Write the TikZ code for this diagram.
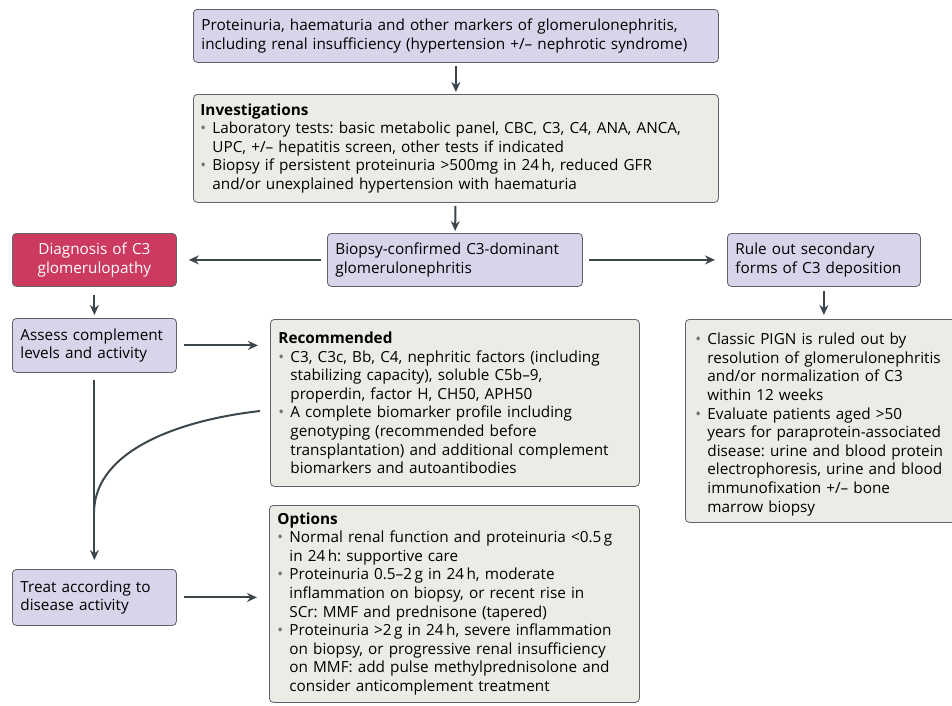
\documentclass[tikz,border=0pt]{standalone}
\usepackage{fontspec}
\setmainfont{Open Sans}
\usepackage{tikz}
\usetikzlibrary{arrows.meta}

\definecolor{lavfill}{RGB}{216,213,235}
\definecolor{beigefill}{RGB}{237,235,229}
\definecolor{redfill}{RGB}{205,58,96}
\definecolor{edgegray}{RGB}{95,100,105}
\definecolor{arrowgray}{RGB}{60,70,75}
\definecolor{dotgray}{RGB}{110,115,120}

\newcommand{\bul}{\par\noindent\hangindent=12pt\hangafter=1\makebox[12pt][l]{\textcolor{dotgray}{\textbullet}}}

\tikzset{
	boxbase/.style={draw=edgegray, line width=0.8pt, rounded corners=4pt, anchor=north west,
		inner xsep=8pt, inner ysep=4pt, align=left,
		font=\fontsize{15.3}{18.6}\selectfont\frenchspacing},
	lavbox/.style={boxbase, fill=lavfill},
	beigebox/.style={boxbase, fill=beigefill},
	redbox/.style={boxbase, fill=redfill, text=white, align=center},
	arr/.style={draw=arrowgray, line width=2pt, -{Stealth[length=10pt,width=9pt]}}
}

\begin{document}
\begin{tikzpicture}[x=1pt,y=1pt,yscale=-1,xscale=1]
	\useasboundingbox (0,0) rectangle (952,705);
	
	%Shape: top row
	\node[lavbox, text width=509pt, minimum height=53pt] (markers) at (193,9)
	{Proteinuria, haematuria and other markers of glomerulonephritis,\newline
		including renal insufficiency (hypertension +/-- nephrotic syndrome)};
	\node[beigebox, inner xsep=7pt, text width=511pt, minimum height=108pt] (invest) at (193,94)
	{\textbf{Investigations}
		\bul Laboratory tests: basic metabolic panel, CBC, C3, C4, ANA, ANCA,\newline
		UPC, +/-- hepatitis screen, other tests if indicated
		\bul Biopsy if persistent proteinuria >500mg in 24\,h, reduced GFR\newline
		and/or unexplained hypertension with haematuria\par};
	
	%Shape: middle row
	\node[redbox, text width=148pt, minimum height=53pt] (diag) at (12,233)
	{Diagnosis of C3\\ glomerulopathy};
	\node[lavbox, text width=239pt, minimum height=53pt] (biopsy) at (327,233)
	{Biopsy-confirmed C3-dominant\newline glomerulonephritis};
	\node[lavbox, text width=177pt, minimum height=53pt] (ruleout) at (727,233)
	{Rule out secondary\newline forms of C3 deposition};
	
	%Shape: complement boxes
	\node[lavbox, text width=148pt, minimum height=54pt] (assess) at (12,318)
	{Assess complement\newline levels and activity};
	\node[beigebox, text width=353pt, minimum height=167pt] (recom) at (270,319)
	{\textbf{Recommended}
		\bul C3, C3c, Bb, C4, nephritic factors (including\newline
		stabilizing capacity), soluble C5b--9,\newline
		properdin, factor H, CH50, APH50
		\bul A complete biomarker profile including\newline
		genotyping (recommended before\newline
		transplantation) and additional complement\newline
		biomarkers and autoantibodies\par};
	\node[beigebox, inner xsep=10pt, text width=264pt, minimum height=203pt] (secondary) at (685,319)
	{\bul Classic PIGN is ruled out by\newline
		resolution of glomerulonephritis\newline
		and/or normalization of C3\newline
		within 12 weeks
		\bul Evaluate patients aged >50\newline
		years for paraprotein-associated\newline
		disease: urine and blood protein\newline
		electrophoresis, urine and blood\newline
		immunofixation +/-- bone\newline
		marrow biopsy\par};
	
	%Shape: treatment
	\node[lavbox, text width=148pt, minimum height=56pt] (treat) at (12,569)
	{Treat according to\newline disease activity};
	\node[beigebox, text width=354pt, minimum height=197pt] (options) at (269,505)
	{\textbf{Options}
		\bul Normal renal function and proteinuria <0.5\,g\newline
		in 24\,h: supportive care
		\bul Proteinuria 0.5--2\,g in 24\,h, moderate\newline
		inflammation on biopsy, or recent rise in\newline
		SCr: MMF and prednisone (tapered)
		\bul Proteinuria >2\,g in 24\,h, severe inflammation\newline
		on biopsy, or progressive renal insufficiency\newline
		on MMF: add pulse methylprednisolone and\newline
		consider anticomplement treatment\par};
	
	%Straight Lines
	\draw[arr, shorten <=3pt, shorten >=2pt] (markers) -- (invest);
	\draw[arr, shorten <=3pt, shorten >=2pt] (invest) -- (biopsy);
	\draw[arr, shorten <=6pt, shorten >=12pt] (biopsy) -- (diag);
	\draw[arr, shorten <=6pt, shorten >=12pt] (biopsy) -- (ruleout);
	\draw[arr, shorten <=8pt, shorten >=3pt] (diag) -- (assess);
	\draw[arr, shorten <=4pt, shorten >=4pt] (ruleout.south) -- (ruleout.south |- secondary.north);
	\draw[arr, shorten <=7pt, shorten >=12pt] (assess) -- (assess -| recom.west);
	\draw[arr, shorten <=7pt, shorten >=12pt] (treat) -- (treat -| options.west);
	\draw[arr, shorten <=7pt, shorten >=9pt] (assess) -- (treat);
	
	%Curve Lines
	\coordinate (cstart) at (260,411);
	\coordinate (cjoin) at (94,512);
	\draw[draw=arrowgray, line width=2pt] (cstart) .. controls (180,420) and (95,450) .. (cjoin);
\end{tikzpicture}
\end{document}
